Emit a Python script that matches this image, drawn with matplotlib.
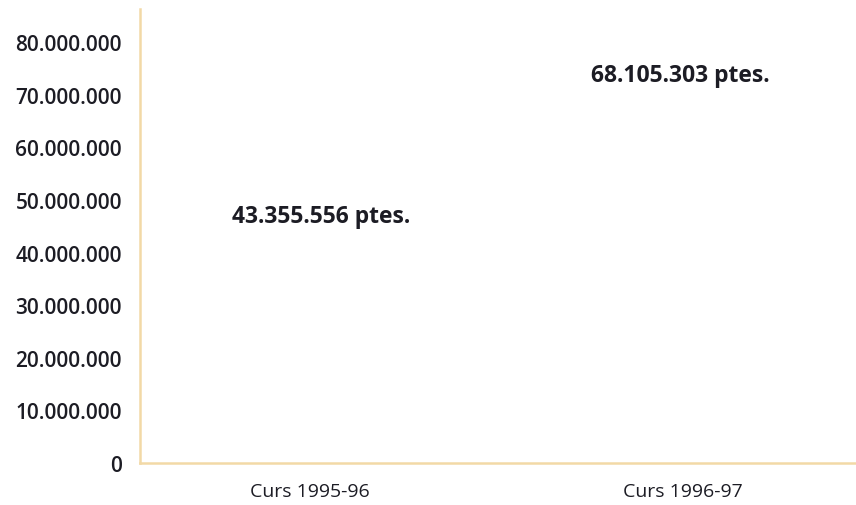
import matplotlib
matplotlib.use("Agg")
import matplotlib.pyplot as plt
from matplotlib.ticker import FuncFormatter

categories = ["Curs 1995-96", "Curs 1996-97"]
values = [43355556, 68105303]
value_labels = ["43.355.556 ptes.", "68.105.303 ptes."]
yticks = [0, 10000000, 20000000, 30000000, 40000000, 50000000, 60000000, 70000000, 80000000]

plt.rcParams["font.family"] = ["Open Sans", "DejaVu Sans"]

AXIS_COLOR = "#f2d9a6"
TEXT_COLOR = "#1c1c24"


def dots(v, pos=None):
    return f"{int(v):,}".replace(",", ".")


fig = plt.figure(figsize=(8.56, 5.06), dpi=100)
ax = fig.add_axes([0.1636, 0.083, 0.8364, 0.897])

x = list(range(len(categories)))
# bars are not visible in the original, only their value labels
bars = ax.bar(x, values, width=0.5, color="white", edgecolor="none")

offsets = [(8, 14), (-2, 21.5)]
for b, lab, off in zip(bars, value_labels, offsets):
    ax.annotate(lab, (b.get_x() + b.get_width() / 2, b.get_height()),
                xytext=off, textcoords="offset points",
                ha="center", va="center", fontsize=16.5, fontweight="bold",
                color=TEXT_COLOR)

ax.set_xlim(-0.456, 1.464)
ax.set_ylim(0, 86300000)
ax.set_yticks(yticks)
ax.yaxis.set_major_formatter(FuncFormatter(dots))
ax.set_xticks(x)
ax.set_xticklabels(categories)

ax.tick_params(axis="both", length=0, colors=TEXT_COLOR)
ax.tick_params(axis="y", pad=13, labelsize=15)
ax.tick_params(axis="x", pad=14, labelsize=14)
for t in ax.get_yticklabels():
    t.set_fontweight("semibold")

for s in ["top", "right"]:
    ax.spines[s].set_visible(False)
for s in ["left", "bottom"]:
    ax.spines[s].set_color(AXIS_COLOR)
    ax.spines[s].set_linewidth(1.8)

fig.savefig("out.png", dpi=100, facecolor="white")
